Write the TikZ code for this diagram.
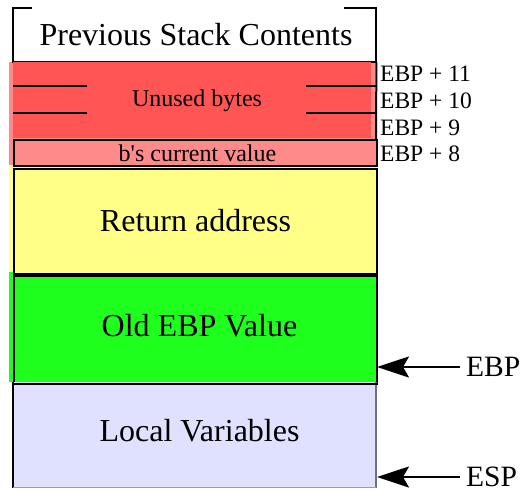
\documentclass[tikz,border=0pt]{standalone}
\usepackage{fontspec}
\setmainfont{Liberation Serif}
\newfontfamily\rawserif{Liberation Serif}
\usetikzlibrary{arrows.meta}
\definecolor{redA}{HTML}{FF5555}
\definecolor{pinkA}{HTML}{FF8A8A}
\definecolor{yelA}{HTML}{FFFF88}
\definecolor{greenA}{HTML}{1EFF1E}
\definecolor{lavA}{HTML}{E0E0FF}
\definecolor{greyA}{HTML}{707080}
\begin{document}
\begin{tikzpicture}[x=1pt,y=-1pt,
  cell/.style={draw=black, line width=2pt, inner sep=0pt, anchor=north west},
  plain/.style={draw=none, inner sep=0pt, anchor=north west},
  big/.style={font=\fontsize{32}{36}\selectfont, anchor=base, inner sep=0pt},
  mid/.style={font=\fontsize{24}{28}\selectfont, anchor=base, inner sep=0pt},
  off/.style={font=\fontsize{23.5}{26}\selectfont, anchor=base west, inner sep=0pt},
  reg/.style={font=\fontsize{29.5}{32}\selectfont, anchor=west, inner sep=0pt},
  bar/.style={line width=2pt},
  ptr/.style={line width=2pt, -{Stealth[length=32pt,width=21pt,inset=6pt]}}]
\useasboundingbox (0,0) rectangle (525,488);
% backgrounds
\fill[pinkA] (9,62) rectangle (375,165);
\fill[yelA] (9,165) rectangle (376,273);
\fill[greenA] (9,272) rectangle (376,382);
% previous stack contents
\node[plain, minimum width=363pt, minimum height=54pt] (prev) at (13,8) {};
\draw[bar] ([xshift=19pt]prev.north west) -- (prev.north west) -- (prev.south west) -- (prev.south east) -- (prev.north east) -- ([xshift=-32pt]prev.north east);
\node[big] (tprev) at (196,45) {Previous Stack Contents};
% unused bytes
\node[plain, fill=redA, minimum width=358pt, minimum height=76pt] (unused) at (13,62) {};
\draw[bar] (prev.south east) -- (376,139);
\draw[bar] (13,86) -- (87,86);
\draw[bar] (13,113) -- (87,113);
\draw[bar] (306,86) -- (376,86);
\draw[bar] (306,113) -- (376,113);
\node[mid] (tunused) at (197,106) {Unused bytes};
% b's current value
\node[cell, fill=pinkA, minimum width=363pt, minimum height=26pt] (bval) at (13,139) {};
\node[mid] (tbval) at (197.5,161) {\rawserif b's current value};
% return address
\node[cell, fill=yelA, minimum width=363pt, minimum height=105pt] (ret) at (13,168) {};
\node[big] (tret) at (195.5,231) {Return address};
% old EBP
\node[cell, fill=greenA, minimum width=363pt, minimum height=107pt] (old) at (13,275) {};
\node[big] (told) at (199.5,336) {Old EBP Value};
% local variables
\node[plain, fill=lavA, minimum width=363pt, minimum height=106pt] (loc) at (13,382) {};
\draw[line width=2pt] (loc.north west) -- (loc.south west);
\draw[line width=2pt, greyA] (loc.north east) -- (loc.south east);
\draw[line width=1pt, greyA!70] (13,487) -- (376,487);
\draw[bar] (old.south west) -- (old.south east);
\node[big] (tloc) at (199.5,441.5) {Local Variables};
% offsets
\node[off] (o11) at (380,81.5) {EBP + 11};
\node[off] (o10) at (380,108.3) {EBP + 10};
\node[off] (o9) at (380,135) {EBP + 9};
\node[off] (o8) at (380,161.7) {EBP + 8};
% pointers
\coordinate (ebptip) at (377,367);
\coordinate (esptip) at (377,477);
\node[reg] (ebp) at (466,367) {EBP};
\node[reg] (esp) at (466,477) {ESP};
\draw[ptr] ([xshift=-6pt]ebp.west) -- (ebptip);
\draw[ptr] ([xshift=-6pt]esp.west) -- (esptip);
\end{tikzpicture}
\end{document}
